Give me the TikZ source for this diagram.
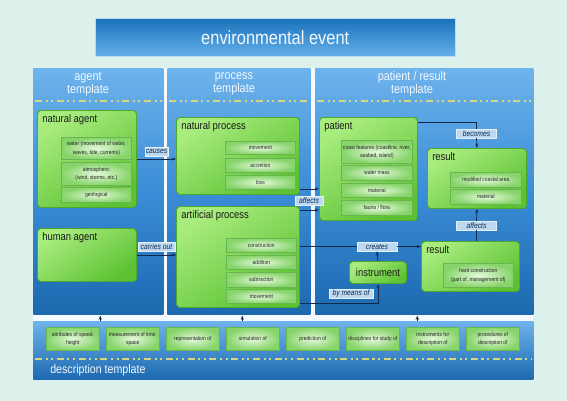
\documentclass[tikz,border=0pt]{standalone}
\usepackage{fontspec}
\setmainfont{Liberation Sans}[FakeStretch=0.86]
\usepackage{tikz}
\usetikzlibrary{positioning, arrows.meta, calc}
\definecolor{bgMint}{HTML}{DDF1EC}
\definecolor{gapWhite}{HTML}{F3F9FD}
\definecolor{titleTop}{HTML}{1B72BA}
\definecolor{titleBot}{HTML}{64B0EB}
\definecolor{colTop}{HTML}{6EB3EC}
\definecolor{colMid}{HTML}{3A8DD6}
\definecolor{colBot}{HTML}{1D69B0}
\definecolor{dashYel}{HTML}{D8D67A}
\definecolor{grnTop}{HTML}{A9EC7E}
\definecolor{grnBot}{HTML}{5CC232}
\definecolor{grnEdge}{HTML}{4EA830}
\definecolor{subIn}{HTML}{E6F9DC}
\definecolor{subOut}{HTML}{86D46A}
\definecolor{tagFill}{HTML}{BDD9F1}
\definecolor{arrNavy}{HTML}{10294D}
\definecolor{headText}{HTML}{F2F8FF}

\tikzset{
  boxsize/.style 2 args={minimum width=#1*0.025cm, minimum height=#2*0.025cm},
  colbox/.style={anchor=north west, inner sep=0pt, top color=colTop, bottom color=colBot, middle color=colMid},
  gbox/.style={anchor=north west, inner sep=0pt, draw=grnEdge, line width=0.7pt, rounded corners=2.5pt,
    top color=grnTop, bottom color=grnBot, shading angle=35},
  subbox/.style={anchor=north west, inner sep=0pt, draw=grnEdge!85, line width=0.5pt,
    inner color=subIn, outer color=subOut, align=center, text=black!85,
    font=\fontsize{4.1}{6}\selectfont},
  boxtitle/.style={anchor=north west, inner sep=0pt, text=black!90, font=\fontsize{7.8}{9}\selectfont},
  headtext/.style={align=center, text=headText, font=\fontsize{9}{9.3}\selectfont},
  tag/.style={fill=tagFill, draw=white!60!tagFill, line width=0.3pt, inner sep=0pt, text=arrNavy,
    minimum height=9*0.025cm, font=\fontsize{5.6}{6}\selectfont\itshape},
  arr/.style={-{Stealth[length=3pt, width=2.2pt]}, arrNavy, line width=0.5pt},
  lne/.style={arrNavy, line width=0.5pt},
  ydash/.style={dashYel, line width=1.1pt, dash pattern=on 5pt off 2.5pt on 1.5pt off 2.5pt on 1.5pt off 2.5pt}
}

\begin{document}
\begin{tikzpicture}[x=0.025cm, y=-0.025cm]
  \fill[bgMint] (0,0) rectangle (567,401);
  \useasboundingbox (0,0) rectangle (567,401);

  % title
  \node[anchor=north west, boxsize={360}{38}, inner sep=0pt, top color=titleTop, bottom color=titleBot,
    draw=white!55!titleBot, line width=0.4pt, text=headText, font=\fontsize{13.6}{15}\selectfont]
    (title) at (95,18) {environmental event};

  % templates
  \fill[gapWhite] (33,68) rectangle (533,321);
  \node[colbox, boxsize={130}{246}] (agentcol) at (33,68) {};
  \node[colbox, boxsize={143}{246}] (proccol) at (167,68) {};
  \node[colbox, boxsize={218}{246}] (patcol) at (315,68) {};
  \node[headtext] (agent-h) at (88,84) {agent\\template};
  \node[headtext] (proc-h) at (234,84) {process\\template};
  \node[headtext] (pat-h) at (412,84) {patient / result\\template};
  \foreach \c in {agentcol, proccol, patcol}
    \draw[ydash] ($(\c.north west)+(2,33)$) -- ($(\c.north east)+(-2,33)$);

  % agent
  \node[gbox, boxsize={99}{97}] (natagent) at (37,110) {};
  \node[boxtitle] (natagent-t) at ($(natagent.north west)+(5,4)$) {natural agent};
  \node[subbox, boxsize={70}{22}] (na1) at (61,137) {water (movement of water,\\waves, tide, currents)};
  \node[subbox, boxsize={70}{23}] (na2) at (61,162) {atmospheric\\(wind, storms, etc.)};
  \node[subbox, boxsize={70}{15}] (na3) at (61,187) {geological};
  \node[gbox, boxsize={99}{53}] (humagent) at (37,228) {};
  \node[boxtitle] (humagent-t) at ($(humagent.north west)+(5,4)$) {human agent};

  % process
  \node[gbox, boxsize={123}{77}] (natproc) at (176,117) {};
  \node[boxtitle] (natproc-t) at ($(natproc.north west)+(5,4)$) {natural process};
  \node[subbox, boxsize={70}{13}] (np1) at (225,141) {movement};
  \node[subbox, boxsize={70}{14}] (np2) at (225,158) {accretion};
  \node[subbox, boxsize={70}{14}] (np3) at (225,175) {loss};
  \node[gbox, boxsize={123}{101}] (artproc) at (176,206) {};
  \node[boxtitle] (artproc-t) at ($(artproc.north west)+(5,4)$) {artificial process};
  \node[subbox, boxsize={70}{14}] (ap1) at (226,238) {construction};
  \node[subbox, boxsize={70}{14}] (ap2) at (226,255) {addition};
  \node[subbox, boxsize={70}{15}] (ap3) at (226,272) {subtraction};
  \node[subbox, boxsize={70}{14}] (ap4) at (226,289) {movement};

  % patient / result
  \node[gbox, boxsize={98}{103}] (patient) at (319,117) {};
  \node[boxtitle] (patient-t) at ($(patient.north west)+(5,4)$) {patient};
  \node[subbox, boxsize={71}{23}] (pt1) at (341,140) {coast features (coastline, river,\\seabed, island)};
  \node[subbox, boxsize={71}{15}] (pt2) at (341,165) {water mass};
  \node[subbox, boxsize={71}{14}] (pt3) at (341,183) {material};
  \node[subbox, boxsize={71}{15}] (pt4) at (341,200) {fauna / flora};
  \node[gbox, boxsize={99}{60}] (result) at (427,148) {};
  \node[boxtitle] (result-t) at ($(result.north west)+(5,4)$) {result};
  \node[subbox, boxsize={71}{15}] (rs1) at (450,172) {modified coastal area};
  \node[subbox, boxsize={71}{15}] (rs2) at (450,189) {material};
  \node[gbox, boxsize={98}{50}] (result2) at (421,241) {};
  \node[boxtitle] (result2-t) at ($(result2.north west)+(5,4)$) {result};
  \node[subbox, boxsize={70}{24}] (rs3) at (443,263) {hard construction\\(part of, management of)};
  \node[gbox, boxsize={57}{22}, font=\fontsize{7.8}{9}\selectfont, text=black!90] (instrument) at (349,261) {instrument};

  % description
  \node[anchor=north west, boxsize={500}{58}, inner sep=0pt, top color=colTop, bottom color=colBot]
    (desc) at (33,321) {};
  \draw[ydash] ($(desc.north west)+(2,38)$) -- ($(desc.north east)+(-2,38)$);
  \node[anchor=west, inner sep=0pt, text=headText, font=\fontsize{8.8}{10}\selectfont]
    (desc-t) at (50,370) {description template};
  \foreach \t [count=\i from 0] in {{attributes of speed,\\height}, {measurement of time,\\space},
      {representation of}, {simulation of}, {prediction of}, {disciplines for study of},
      {instruments for\\description of}, {procedures of\\description of}}
    \node[subbox, boxsize={53}{23}, font=\fontsize{4.1}{5.6}\selectfont] (d\i) at (46+60*\i,327) {\t};

  % relation tags
  \node[tag, minimum width=23*0.025cm] (t-causes) at (156.5,151.5) {causes};
  \node[tag, minimum width=37*0.025cm] (t-carries) at (156.5,247) {carries out};
  \node[tag, minimum width=28*0.025cm] (t-affects) at (309,200.5) {affects};
  \node[tag, minimum width=40*0.025cm] (t-becomes) at (476.5,133.5) {becomes};
  \node[tag, minimum width=40*0.025cm] (t-affects2) at (476.5,225.5) {affects};
  \node[tag, minimum width=40*0.025cm] (t-creates) at (377,246.5) {creates};
  \node[tag, minimum width=44*0.025cm] (t-bymeans) at (351,293.5) {by means of};

  % connectors
  \draw[arr] (natagent.east) -- (natagent.east -| natproc.west);
  \draw[arr] (humagent.east) -- (humagent.east -| artproc.west);
  \coordinate (aff-a) at ($(natproc.south east)+(0,-6)$);
  \coordinate (aff-b) at ($(artproc.north east)+(0,4)$);
  \draw[arr] (aff-a) -- (aff-a -| patient.west);
  \draw[arr] (aff-b) -- (aff-b -| patient.west);
  \coordinate (cre) at (artproc.east |- t-creates);
  \draw[lne] (cre) -- (t-creates.west);
  \draw[arr] (t-creates.east) -- (t-creates.east -| result2.west);
  \draw[arr] (instrument.north) -- (t-creates.south);
  \coordinate (bym) at ($(artproc.south east)+(0,-5)$);
  \draw[arr] (bym) -| (instrument.south);
  \draw[lne] ($(patient.north east)+(0,5)$) -| (t-becomes.north);
  \draw[arr] (t-becomes.south) -- (result.north);
  \draw[lne] (t-affects2.south |- result2.north) -- (t-affects2.south);
  \draw[arr] (t-affects2.north) -- (result.south);
  \foreach \c/\dx in {agentcol/2, proccol/3.5, patcol/-7}
    \draw[arr] ($(desc.north -| \c.south)+(\dx,0)$) -- ($(\c.south)+(\dx,1)$);
\end{tikzpicture}
\end{document}
